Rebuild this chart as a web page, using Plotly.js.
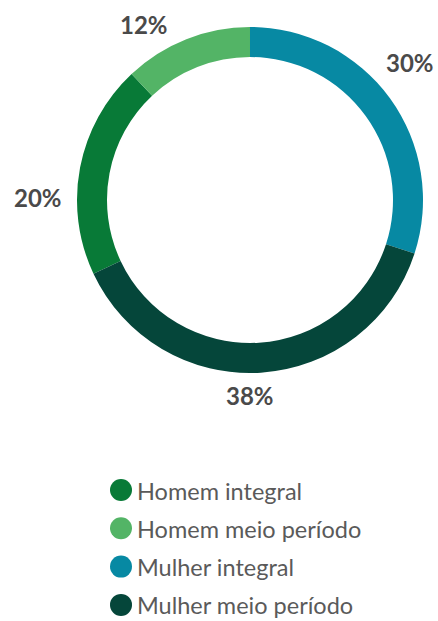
<!DOCTYPE html>
<html>
<head>
<meta charset="utf-8">
<script src="https://cdn.plot.ly/plotly-3.0.1.min.js"></script>
<style>html,body{margin:0;padding:0;background:#fff;}#chart{width:438px;height:621px;}</style>
</head>
<body>
<div id="chart"></div>
<script>
// ---- data (legend order) ----
const categories = ["Homem integral", "Homem meio período", "Mulher integral", "Mulher meio período"];
const values = [20, 12, 30, 38];
const colors = ["#087a37", "#53b466", "#0789a3", "#05463a"];

// ---- layout helpers (pixel positions) ----
const W = 438, H = 621;
const px = x => x / W, py = y => 1 - y / H;
const cx = 250, cy = 200, R = 173, Rin = 143;
// label positions (px), in category order
const labelPos = [[38, 197], [144, 25], [410, 62], [250, 395]];
// legend
const legX = 121, legY0 = 490, legDy = 38.3, legR = 11;

const total = values.reduce((a, b) => a + b, 0);
// Mulher integral starts at 12 o'clock, clockwise
const rotation = -360 * (values[0] + values[1]) / total;

const trace = {
  type: "pie",
  labels: categories,
  values: values,
  marker: {colors: colors, line: {width: 0}},
  hole: Rin / R,
  sort: false,
  direction: "clockwise",
  rotation: rotation,
  textinfo: "none",
  hoverinfo: "label+percent",
  showlegend: false,
  domain: {x: [px(cx - R), px(cx + R)], y: [py(cy + R), py(cy - R)]}
};

const annotations = [];
const shapes = [];
categories.forEach((c, i) => {
  annotations.push({
    xref: "paper", yref: "paper", x: px(labelPos[i][0]), y: py(labelPos[i][1]),
    xanchor: "center", yanchor: "middle", showarrow: false,
    text: "<b>" + Math.round(values[i] / total * 100) + "%</b>",
    font: {family: "Lato, 'Open Sans', sans-serif", size: 24, color: "#4a4a4a"}
  });
  const ly = legY0 + i * legDy;
  shapes.push({
    type: "circle", xref: "paper", yref: "paper",
    xsizemode: "pixel", ysizemode: "pixel",
    xanchor: px(legX), yanchor: py(ly),
    x0: -legR, x1: legR, y0: -legR, y1: legR,
    fillcolor: colors[i], line: {width: 0}
  });
  annotations.push({
    xref: "paper", yref: "paper", x: px(legX + 15), y: py(ly + 0.5),
    xanchor: "left", yanchor: "middle", showarrow: false,
    borderpad: 0,
    text: c,
    font: {family: "Lato, 'Open Sans', sans-serif", size: 23.5, color: "#5a5a5a"}
  });
});

const layout = {
  width: W, height: H,
  margin: {l: 0, r: 0, t: 0, b: 0},
  paper_bgcolor: "#ffffff",
  plot_bgcolor: "#ffffff",
  showlegend: false,
  annotations: annotations,
  shapes: shapes
};

Plotly.newPlot("chart", [trace], layout, {displayModeBar: false, staticPlot: true});
</script>
</body>
</html>
